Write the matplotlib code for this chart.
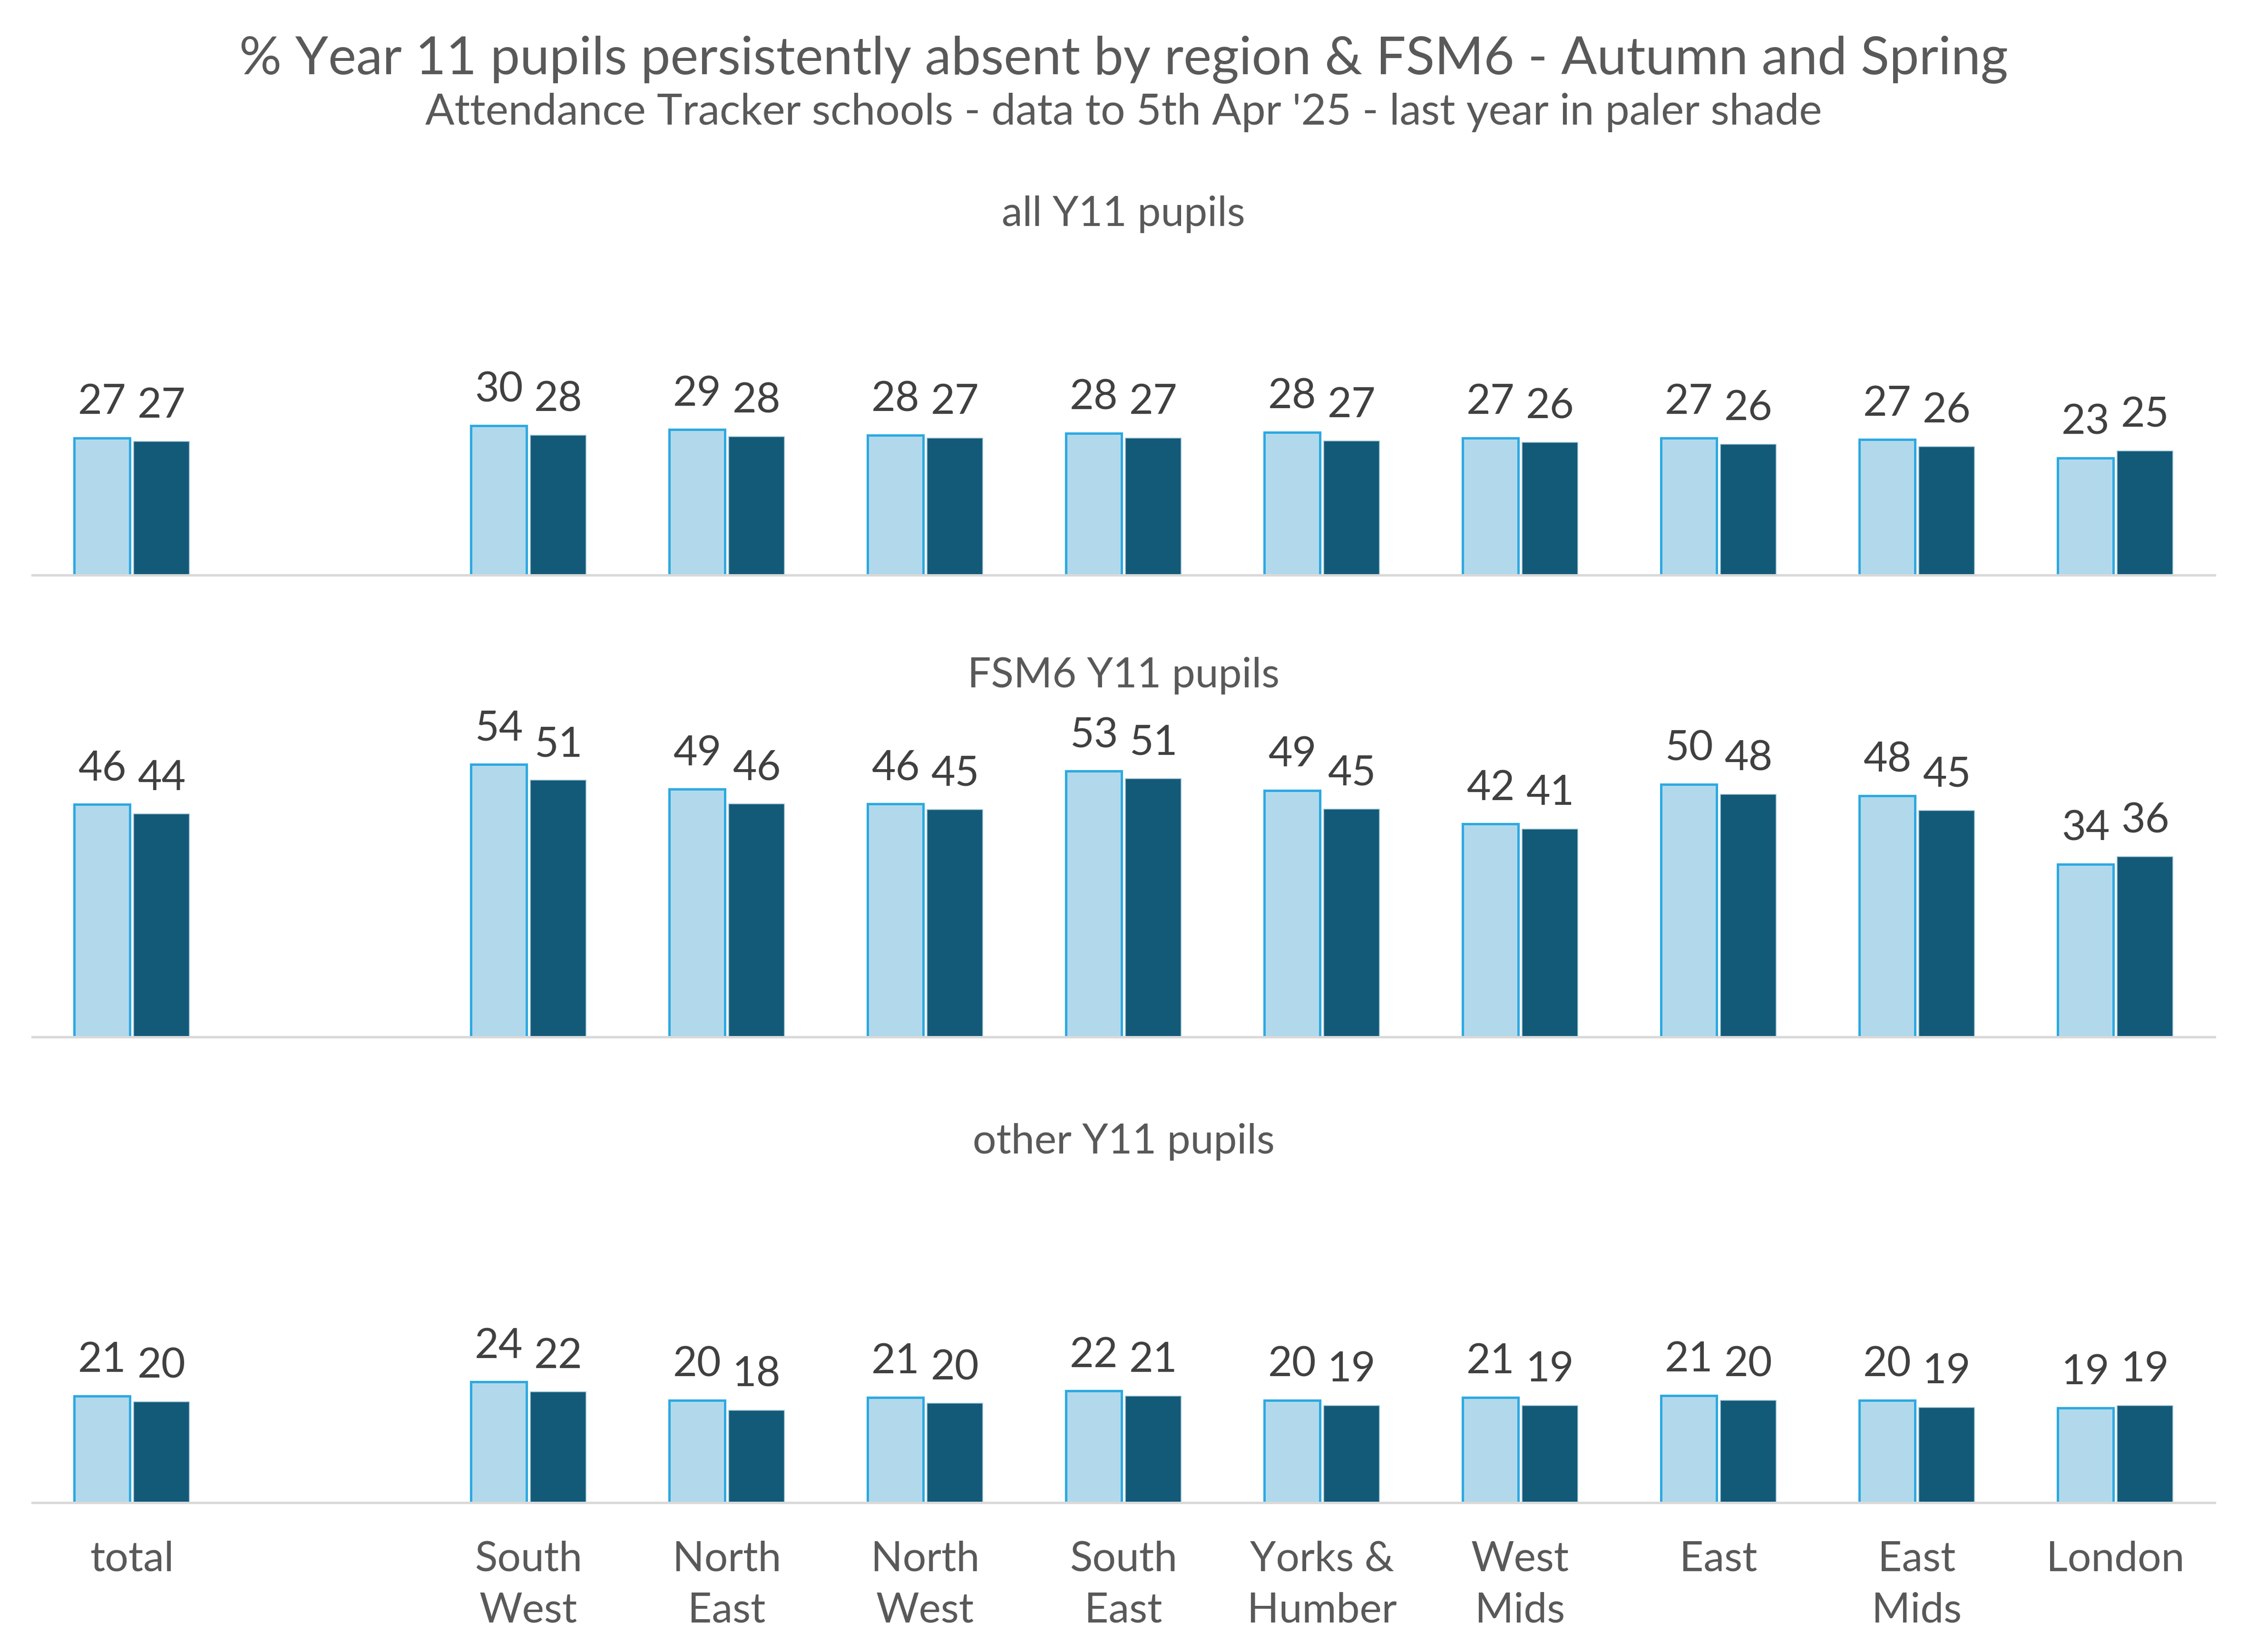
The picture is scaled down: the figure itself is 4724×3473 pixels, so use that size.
import numpy as np
import matplotlib
matplotlib.use("Agg")
import matplotlib.pyplot as plt

plt.rcParams['font.family'] = ['Lato', 'DejaVu Sans']

# categories: index 1 is left empty between total and the regions
regions = ["total", "", "South\nWest", "North\nEast", "North\nWest", "South\nEast",
           "Yorks &\nHumber", "West\nMids", "East", "East\nMids", "London"]

panel_titles = ["all Y11 pupils", "FSM6 Y11 pupils", "other Y11 pupils"]

# last year (paler) and this year (darker), % persistently absent
all_last = [27.3, None, 29.8, 29.0, 27.9, 28.2, 28.4, 27.3, 27.3, 27.0, 23.3]
all_this = [26.6, None, 27.9, 27.6, 27.3, 27.3, 26.7, 26.4, 26.1, 25.6, 24.7]

fsm_last = [46.3, None, 54.3, 49.3, 46.4, 52.9, 49.1, 42.4, 50.3, 48.0, 34.4]
fsm_this = [44.4, None, 51.1, 46.4, 45.3, 51.4, 45.4, 41.4, 48.3, 45.1, 35.9]

oth_last = [21.3, None, 24.1, 20.4, 21.0, 22.3, 20.4, 21.0, 21.4, 20.4, 18.9]
oth_this = [20.1, None, 22.1, 18.4, 19.8, 21.3, 19.4, 19.4, 20.4, 19.0, 19.4]

panels = [(all_last, all_this), (fsm_last, fsm_this), (oth_last, oth_this)]

light_fill = "#B2D9EB"
light_edge = "#2DA9E1"
dark_fill = "#135A78"
text_dark = "#404040"
text_grey = "#595959"

fig = plt.figure(figsize=(4724 / 300, 3473 / 300), dpi=300)

fig.text(0.5, 0.955, "% Year 11 pupils persistently absent by region & FSM6 - Autumn and Spring",
         ha="center", va="baseline", fontsize=26.7, color=text_grey)
fig.text(0.5, 0.9245, "Attendance Tracker schools - data to 5th Apr '25 - last year in paler shade",
         ha="center", va="baseline", fontsize=21.8, color=text_grey)

bottoms = [0.6519, 0.3724, 0.0903]
ymax = 68
height = ymax * 3.5 / 1152
x = np.arange(len(regions))
w = 0.28
off = 0.15

for i, (last, this) in enumerate(panels):
    ax = fig.add_axes([0.0145, bottoms[i], 0.971, height])
    idx = [k for k in range(len(regions)) if last[k] is not None]
    lv = [last[k] for k in idx]
    tv = [this[k] for k in idx]
    xi = x[idx]
    ax.bar(xi - off, lv, w, color=light_fill, edgecolor=light_edge, linewidth=1.2)
    ax.bar(xi + off, tv, w, color=dark_fill, edgecolor="#9FC3D3", linewidth=0.4)
    for xx, v in zip(xi - off, lv):
        ax.annotate(f"{v:.0f}", (xx, v), xytext=(0, 8.5), textcoords="offset points",
                    ha="center", va="bottom", fontsize=21, color=text_dark)
    for xx, v in zip(xi + off, tv):
        ax.annotate(f"{v:.0f}", (xx, v), xytext=(0, 8.5), textcoords="offset points",
                    ha="center", va="bottom", fontsize=21, color=text_dark)
    ax.set_xlim(-0.5, 10.5)
    ax.set_ylim(0, ymax)
    ax.set_title(panel_titles[i], fontsize=21, color=text_grey, pad=4)
    for s in ["top", "left", "right"]:
        ax.spines[s].set_visible(False)
    ax.spines["bottom"].set_color("#D9D9D9")
    ax.spines["bottom"].set_linewidth(1.2)
    ax.set_yticks([])
    ax.tick_params(axis="x", length=0, pad=19)
    ax.set_xticks(x)
    if i == 2:
        ax.set_xticklabels(regions, fontsize=21, color=text_grey, linespacing=1.45)
        ax.get_xticklabels()[1].set_visible(False)
    else:
        ax.set_xticklabels([])

fig.savefig("out.png", dpi=300)
